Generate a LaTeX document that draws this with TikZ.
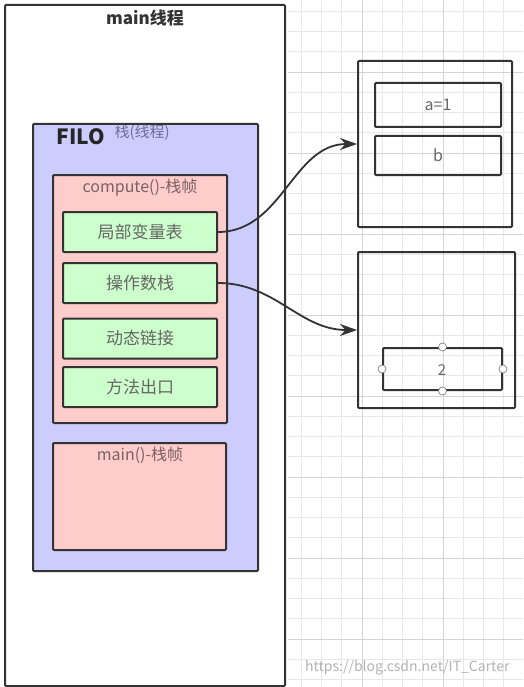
\documentclass[tikz,border=0pt]{standalone}
\usepackage{fontspec}
\setmainfont{Noto Sans CJK SC}
\usetikzlibrary{arrows.meta}
\definecolor{stackblue}{HTML}{CCCCFF}
\definecolor{framepink}{HTML}{FFCCCC}
\definecolor{slotgreen}{HTML}{CCFFCC}
\definecolor{edge}{HTML}{333333}
\definecolor{stacktext}{HTML}{6E6E96}
\definecolor{frametext}{HTML}{7A6262}
\tikzset{
	box/.style={draw=edge,line width=2pt,rounded corners=1pt,inner sep=0pt},
	slot/.style={box,fill=slotgreen,minimum width=154pt,minimum height=40pt,text=black!60,font=\fontsize{17}{19}\selectfont},
	cell/.style={box,minimum width=126pt,text=black!60,font=\fontsize{16}{18}\selectfont},
	handle/.style={circle,draw=black!50,fill=white,line width=0.7pt,minimum size=8pt,inner sep=0pt},
	link/.style={line width=1.8pt,draw=edge,-{Stealth[length=17pt,width=12pt]}},
	gridminor/.style={black!9,line width=0.6pt},
	gridmajor/.style={black!17,line width=0.8pt}
}
\begin{document}
\begin{tikzpicture}[x=1pt,y=-1pt]
	\useasboundingbox (0,0) rectangle (523,687);
	% background grid
	\foreach \i in {-3,...,8}
		\draw[gridminor] ({362+20.25*\i},0) -- ({362+20.25*\i},687);
	\foreach \j in {-23,...,10}
		\draw[gridminor] (288,{477+20.25*\j}) -- (523,{477+20.25*\j});
	\foreach \i in {0,4,8}
		\draw[gridmajor] ({362+20.25*\i},0) -- ({362+20.25*\i},687);
	\foreach \j in {-20,-16,...,8}
		\draw[gridmajor] (288,{477+20.25*\j}) -- (523,{477+20.25*\j});

	\node[box,fill=white,minimum width=280pt,minimum height=681pt] (mainthread) at (145,345.5) {};
	\node[font=\bfseries\fontsize{17}{19}\selectfont,text=black!80] (mainlabel) at (145,18) {main线程};

	\node[box,fill=stackblue,minimum width=225pt,minimum height=447pt] (stack) at (145.5,347.5) {};
	\node[anchor=west,font=\bfseries\fontsize{21}{24}\selectfont,text=black!85] (filo) at (53,137) {FILO};
	\node[anchor=west,font=\fontsize{15}{17}\selectfont,text=stacktext] (stacklabel) at (111,133) {栈(线程)};

	\node[box,fill=framepink,minimum width=174pt,minimum height=248pt] (compute) at (140,299) {};
	\node[font=\fontsize{16}{18}\selectfont,text=frametext] (computelabel) at (140,188) {compute()-栈帧};
	\node[slot] (locals) at (140,232) {局部变量表};
	\node[slot] (operand) at (140,283) {操作数栈};
	\node[slot] (dynlink) at (140,338.5) {动态链接};
	\node[slot] (retaddr) at (140,387) {方法出口};

	\node[box,fill=framepink,minimum width=173pt,minimum height=107pt] (mainframe) at (139.5,496.5) {};
	\node[font=\fontsize{16}{18}\selectfont,text=frametext] (mainframelabel) at (140,455) {main()-栈帧};

	\node[box,minimum width=154pt,minimum height=166pt] (heapA) at (435,144) {};
	\node[cell,minimum height=44pt] (aval) at (438,105) {a=1};
	\node[cell,minimum height=39pt] (bval) at (438,155.5) {b};

	\node[box,minimum width=157pt,minimum height=156pt] (heapB) at (436.5,330) {};
	\node[box,minimum width=119pt,minimum height=42pt] (obj) at (442.5,369) {};
	\node[text=black!60,font=\fontsize{15}{17}\selectfont] (objval) at (442,370) {2};
	\node[handle] (objn) at (obj.north) {};
	\node[handle] (objs) at (obj.south) {};
	\node[handle] (objw) at (obj.west) {};
	\node[handle] (obje) at (obj.east) {};

	\draw[link] (locals.east) to[out=0,in=180] (heapA.west);
	\draw[link] (operand.east) to[out=0,in=180] (heapB.west);

	\node[anchor=east,text=black!30,font=\fontsize{14}{16}\selectfont] (mark) at (513,668) {https://blog.csdn.net/IT\_Carter};
\end{tikzpicture}
\end{document}
